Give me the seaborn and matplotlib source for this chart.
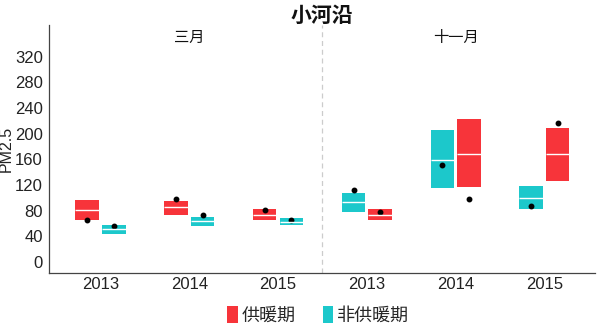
import matplotlib
matplotlib.use("Agg")
import matplotlib.pyplot as plt
from matplotlib.patches import Patch
import seaborn as sns
import pandas as pd

years = ["2013", "2014", "2015"]
months = ["三月", "十一月"]
heat, non = "供暖期", "非供暖期"

# March
mar_heat_q1 = [66, 74, 66]
mar_heat_med = [81, 85, 73.5]
mar_heat_q3 = [96.5, 95, 82]
mar_heat_dot = [66, 98.5, 81]
mar_non_q1 = [43.5, 56, 58]
mar_non_med = [51.5, 64, 62.7]
mar_non_q3 = [58, 70.5, 68]
mar_non_dot = [55.5, 73.5, 66.3]
# November
nov_heat_q1 = [65.5, 116.5, 127]
nov_heat_med = [73.5, 169, 167.5]
nov_heat_q3 = [83, 222, 209]
nov_heat_dot = [78.3, 98.5, 217]
nov_non_q1 = [78.3, 115.6, 83.4]
nov_non_med = [93.4, 159.7, 100.5]
nov_non_q3 = [107.4, 206, 118.8]
nov_non_dot = [112, 151.4, 88]

colors = {heat: "#F7343A", non: "#1CC8CB"}

cats = [f"{m}{y}" for m in months for y in years]

def box_rows(month, period, q1, med, q3):
    rows = []
    for y, a, b, c in zip(years, q1, med, q3):
        for v in (a, a, b, c, c):
            rows.append({"cat": f"{month}{y}", "period": period, "val": v})
    return rows

def dot_rows(month, period, dots):
    return [{"cat": f"{month}{y}", "period": period, "val": v} for y, v in zip(years, dots)]

mar_box = pd.DataFrame(box_rows("三月", heat, mar_heat_q1, mar_heat_med, mar_heat_q3)
                       + box_rows("三月", non, mar_non_q1, mar_non_med, mar_non_q3))
nov_box = pd.DataFrame(box_rows("十一月", heat, nov_heat_q1, nov_heat_med, nov_heat_q3)
                       + box_rows("十一月", non, nov_non_q1, nov_non_med, nov_non_q3))
mar_dot = pd.DataFrame(dot_rows("三月", heat, mar_heat_dot) + dot_rows("三月", non, mar_non_dot))
nov_dot = pd.DataFrame(dot_rows("十一月", heat, nov_heat_dot) + dot_rows("十一月", non, nov_non_dot))

sns.set_theme(style="white")
plt.rcParams["font.family"] = ["Liberation Sans", "Noto Sans CJK SC", "DejaVu Sans"]

fig = plt.figure(figsize=(6, 3.34), dpi=100)
ax = fig.add_axes([0.0817, 0.1826, 0.91, 0.7424])

common = dict(x="cat", y="val", hue="period", order=cats, palette=colors, saturation=1,
              width=0.6, gap=0.12, whis=0, showfliers=False, showcaps=False,
              boxprops=dict(linewidth=0),
              whiskerprops=dict(linewidth=0),
              medianprops=dict(color="white", linewidth=1),
              legend=False, ax=ax)
sns.boxplot(data=mar_box, hue_order=[heat, non], **common)
sns.boxplot(data=nov_box, hue_order=[non, heat], **common)

dcommon = dict(x="cat", y="val", hue="period", order=cats,
               palette={heat: "black", non: "black"}, dodge=0.3,
               linestyle="none", markers="o", markersize=2.2,
               errorbar=None, legend=False, ax=ax)
sns.pointplot(data=mar_dot, hue_order=[heat, non], **dcommon)
sns.pointplot(data=nov_dot, hue_order=[non, heat], **dcommon)

ax.axvline(2.5, color="#cccccc", linestyle=(0, (4, 3)), linewidth=0.9)

ax.set_xlim(-0.58, 5.57)
ax.set_ylim(-17, 369)
ax.set_yticks(range(0, 321, 40))
ax.set_xticks(range(6))
ax.set_xticklabels(years * 2)
ax.set_xlabel("")
ax.set_ylabel("PM2.5", fontsize=11.5, color="#222222", labelpad=1)
ax.tick_params(axis="y", labelsize=12, length=3, width=0.8, color="#333333", pad=1.5, labelcolor="#222222")
ax.tick_params(axis="x", labelsize=12, length=0, pad=3, labelcolor="#222222")
for s in ["top", "right"]:
    ax.spines[s].set_visible(False)
for s in ["left", "bottom"]:
    ax.spines[s].set_color("#444444")
    ax.spines[s].set_linewidth(0.9)

for xi, m in zip([1, 4], months):
    ax.text(xi, 0.95, m, transform=ax.get_xaxis_transform(), ha="center", va="center",
            fontsize=11, family=["Noto Sans CJK SC"], color="#111111")

ax.set_title("小河沿", fontsize=15, family=["Noto Sans CJK SC"], fontweight="bold", pad=2,
             color="#111111")

handles = [Patch(facecolor=colors[heat], edgecolor="none", label=heat),
           Patch(facecolor=colors[non], edgecolor="none", label=non)]
fig.legend(handles=handles, loc="center", bbox_to_anchor=(0.53, 0.055), ncol=2, frameon=False,
           prop={"family": ["Noto Sans CJK SC"], "size": 13},
           handlelength=0.6, handleheight=1.0, handletextpad=0.2, columnspacing=1.5)

fig.savefig("out.png", dpi=100)
